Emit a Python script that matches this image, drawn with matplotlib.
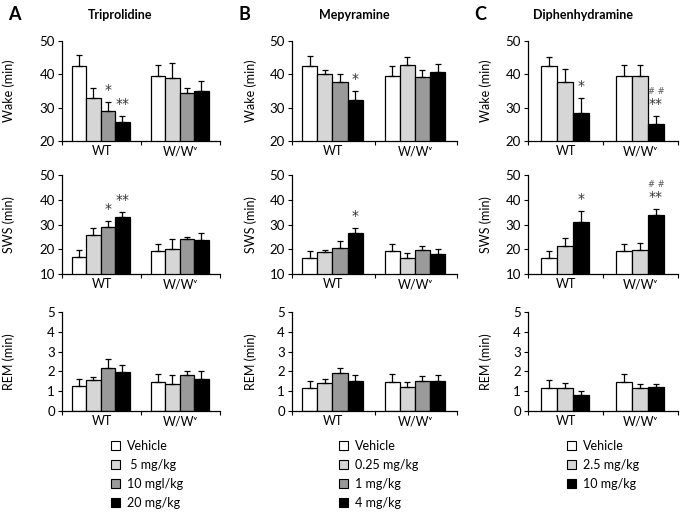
import numpy as np
import matplotlib
matplotlib.use("Agg")
import matplotlib.pyplot as plt
from matplotlib.patches import Patch

plt.rcParams['font.family'] = ['Lato', 'DejaVu Sans']
plt.rcParams['font.size'] = 8.5

# --- data (mean, SEM) ---
groups = ['WT', 'W/Wᵛ']
rows = ['Wake (min)', 'SWS (min)', 'REM (min)']
drugs = ['Triprolidine', 'Mepyramine', 'Diphenhydramine']
letters = ['A', 'B', 'C']

doses_a = ['Vehicle', ' 5 mg/kg', '10 mgl/kg', '20 mg/kg']
doses_b = ['Vehicle', '0.25 mg/kg', '1 mg/kg', '4 mg/kg']
doses_c = ['Vehicle', '2.5 mg/kg', '10 mg/kg']

colors_4 = ['white', '#d6d6d6', '#9a9a9a', 'black']
colors_3 = ['white', '#d6d6d6', 'black']

# Triprolidine
wake_a = [[42.4, 32.8, 29.1, 25.6], [39.6, 38.9, 34.3, 35.1]]
wake_a_sem = [[3.3, 3.1, 2.7, 2.0], [3.1, 4.5, 1.6, 3.0]]
sws_a = [[16.7, 25.9, 29.1, 32.9], [19.3, 20.0, 24.0, 23.7]]
sws_a_sem = [[2.9, 2.8, 2.2, 2.0], [2.7, 4.0, 1.1, 2.7]]
rem_a = [[1.26, 1.56, 2.15, 1.98], [1.48, 1.34, 1.83, 1.61]]
rem_a_sem = [[0.38, 0.17, 0.50, 0.34], [0.38, 0.47, 0.17, 0.40]]

# Mepyramine
wake_b = [[42.4, 40.1, 37.8, 32.3], [39.6, 42.8, 39.1, 40.6]]
wake_b_sem = [[3.1, 1.2, 2.4, 2.6], [3.0, 2.3, 2.2, 2.5]]
sws_b = [[16.6, 18.75, 20.6, 26.4], [19.3, 16.3, 19.7, 17.9]]
sws_b_sem = [[2.6, 0.9, 2.6, 2.3], [2.7, 2.1, 1.8, 2.1]]
rem_b = [[1.17, 1.39, 1.90, 1.51], [1.48, 1.21, 1.53, 1.49]]
rem_b_sem = [[0.37, 0.22, 0.28, 0.32], [0.38, 0.27, 0.25, 0.32]]

# Diphenhydramine
wake_c = [[42.4, 37.8, 28.4], [39.5, 39.5, 25.0]]
wake_c_sem = [[2.9, 3.7, 4.5], [3.2, 3.4, 2.4]]
sws_c = [[16.5, 21.3, 31.1], [19.2, 19.5, 34.0]]
sws_c_sem = [[2.7, 3.2, 4.2], [2.8, 3.2, 2.4]]
rem_c = [[1.17, 1.14, 0.79], [1.48, 1.16, 1.19]]
rem_c_sem = [[0.39, 0.25, 0.22], [0.40, 0.22, 0.15]]

# significance marks: (group, bar, '*' text, '#' text)
sig_a = [[(0, 2, '*', ''), (0, 3, '**', '')], [(0, 2, '*', ''), (0, 3, '**', '')], []]
sig_b = [[(0, 3, '*', '')], [(0, 3, '*', '')], []]
sig_c = [[(0, 2, '*', ''), (1, 2, '**', '# #')], [(0, 2, '*', ''), (1, 2, '**', '# #')], []]

ylims = [(20, 50), (10, 50), (0, 5)]
yticks = [[20, 30, 40, 50], [10, 20, 30, 40, 50], [0, 1, 2, 3, 4, 5]]

panels = [
    (doses_a, colors_4, [(wake_a, wake_a_sem), (sws_a, sws_a_sem), (rem_a, rem_a_sem)], sig_a),
    (doses_b, colors_4, [(wake_b, wake_b_sem), (sws_b, sws_b_sem), (rem_b, rem_b_sem)], sig_b),
    (doses_c, colors_3, [(wake_c, wake_c_sem), (sws_c, sws_c_sem), (rem_c, rem_c_sem)], sig_c),
]

# --- layout in pixels (683 x 512) ---
W, H = 683, 512
col_px = [(62, 220), (292, 457), (528, 678)]
row_px = [(41, 141), (175, 274), (312, 411)]
ylabel_px = [15, 257, 492]
legend_px = [(111, 440), (339, 440), (567, 440)]

fig = plt.figure(figsize=(W / 100, H / 100), dpi=100)

for c, (doses, cols, data, sigs) in enumerate(panels):
    x0, x1 = col_px[c]
    n = len(doses)
    bw = 0.183 if n == 4 else 0.215
    for r in range(3):
        y0, y1 = row_px[r]
        ax = fig.add_axes([x0 / W, 1 - y1 / H, (x1 - x0) / W, (y1 - y0) / H])
        means, sems = data[r]
        for g in range(2):
            xs = g + 0.49 + (np.arange(n) - (n - 1) / 2) * bw
            ax.bar(xs, means[g], width=bw, color=cols, edgecolor='black', linewidth=0.9, zorder=2)
            ax.errorbar(xs, means[g], yerr=[np.zeros(n), sems[g]], fmt='none',
                        ecolor='black', elinewidth=0.9, capsize=2.5, capthick=0.9, zorder=3)
        lo, hi = ylims[r]
        rng = hi - lo
        for g, b, star, hsh in sigs[r]:
            xb = g + 0.49 + (b - (n - 1) / 2) * bw
            top = means[g][b] + sems[g][b]
            ax.text(xb, top + 0.05 * rng, star, ha='center', va='bottom', fontsize=10,
                    color='#333333', family='DejaVu Sans')
            if hsh:
                ax.text(xb, top + 0.20 * rng, hsh, ha='center', va='bottom', fontsize=6,
                        color='#555555', family='DejaVu Sans')
        ax.set_xlim(0, 2)
        ax.set_ylim(lo, hi)
        ax.set_yticks(yticks[r])
        ax.set_xticks([0, 1, 2])
        ax.set_xticklabels([])
        ax.set_xticks([0.5, 1.5], minor=True)
        ax.set_xticklabels(groups, minor=True)
        ax.tick_params(axis='x', which='minor', length=0, pad=3, labelsize=9)
        ax.tick_params(axis='x', which='major', length=3, direction='out')
        ax.tick_params(axis='y', length=3, direction='out', pad=2, labelsize=9.5)
        for s in ['top', 'right']:
            ax.spines[s].set_visible(False)
        ax.spines['left'].set_linewidth(0.9)
        ax.spines['bottom'].set_linewidth(0.9)
        ax.set_ylabel(rows[r], fontsize=9)
        ax.yaxis.set_label_coords((ylabel_px[c] - x0) / (x1 - x0), 0.5)

    # panel letter and title
    fig.text((x0 - 54) / W, 1 - 15 / H, letters[c], fontsize=13, fontweight='bold', va='center', ha='left')
    fig.text((x0 + x1) / 2 / W - 0.03, 1 - 15 / H, drugs[c], fontsize=9, fontweight='bold', va='center', ha='center')

    handles = [Patch(facecolor=col, edgecolor='black', linewidth=0.8) for col in cols]
    lx, ly = legend_px[c]
    fig.legend(handles, doses, loc='upper left', bbox_to_anchor=(lx / W, 1 - ly / H),
               frameon=False, fontsize=9, handlelength=0.7, handleheight=0.7,
               handletextpad=0.6, labelspacing=0.55, borderpad=0, borderaxespad=0)

fig.savefig('out.png', dpi=100)
